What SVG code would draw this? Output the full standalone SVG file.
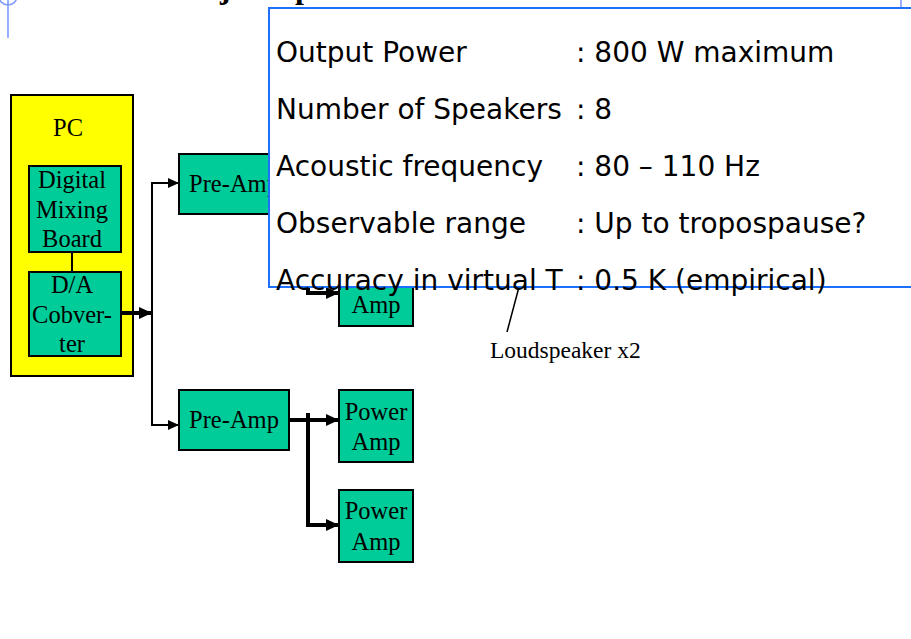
<svg xmlns="http://www.w3.org/2000/svg" width="911" height="639" viewBox="0 0 911 639">
<style>
.bx{fill:#00cc99;stroke:#000;stroke-width:2}
.pc{fill:#ffff00;stroke:#000;stroke-width:2}
.t{font-family:"Liberation Serif","Times New Roman",serif;font-size:24.5px;fill:#000;text-anchor:middle}
.ln{fill:none;stroke:#000;stroke-width:2}
.tk{fill:none;stroke:#000;stroke-width:4}
.s{font-family:"DejaVu Sans","Noto Sans",sans-serif;font-size:28px;fill:#000}
.deco{fill:none;stroke:#7f9bff;stroke-width:1.6}
</style>
<defs>
<marker id="ah" markerUnits="userSpaceOnUse" markerWidth="11" markerHeight="10" refX="11" refY="5" orient="auto"><path d="M0,0 L11,5 L0,10 z" fill="#000"/></marker>
<marker id="ahk" markerUnits="userSpaceOnUse" markerWidth="13" markerHeight="12" refX="13" refY="6" orient="auto"><path d="M0,0 L13,6 L0,12 z" fill="#000"/></marker>
</defs>
<rect width="911" height="639" fill="#fff"/>
<g id="decor">
<circle class="deco" cx="8" cy="-4" r="9"/>
<line class="deco" x1="8" y1="0" x2="8" y2="38"/>
<line class="deco" x1="901" y1="0" x2="901" y2="8"/>
<text x="220" y="-2" font-family="Liberation Serif,serif" font-weight="bold" font-size="32">j</text>
<text x="295" y="-2" font-family="Liberation Serif,serif" font-weight="bold" font-size="32">p</text>
</g>
<g id="pc">
<rect class="pc" x="11" y="95" width="122" height="281"/>
<text class="t" x="68" y="136">PC</text>
</g>
<g id="dmb">
<rect class="bx" x="29" y="166" width="92" height="86"/>
<text class="t" x="72" y="188">Digital</text>
<text class="t" x="72" y="218">Mixing</text>
<text class="t" x="72" y="247">Board</text>
</g>
<g id="da">
<rect class="bx" x="29" y="272" width="92" height="84"/>
<text class="t" x="72" y="293">D/A</text>
<text class="t" x="72" y="323">Cobver-</text>
<text class="t" x="72" y="352">ter</text>
</g>
<g id="preamp1">
<rect class="bx" x="179" y="154" width="110" height="60"/>
<text class="t" x="234" y="192">Pre-Amp</text>
</g>
<g id="preamp2">
<rect class="bx" x="179" y="390" width="110" height="60"/>
<text class="t" x="234" y="428">Pre-Amp</text>
</g>
<g id="poweramp0">
<rect class="bx" x="339" y="254" width="74" height="72"/>
<text class="t" x="376" y="313">Amp</text>
</g>
<g id="poweramp1">
<rect class="bx" x="339" y="390" width="74" height="72"/>
<text class="t" x="376" y="420">Power</text>
<text class="t" x="376" y="450">Amp</text>
</g>
<g id="poweramp2">
<rect class="bx" x="339" y="490" width="74" height="72"/>
<text class="t" x="376" y="519">Power</text>
<text class="t" x="376" y="550">Amp</text>
</g>
<g id="connectors">
<line class="ln" x1="72" y1="252" x2="72" y2="272"/>
<path class="tk" d="M121,313 H152" marker-end="url(#ahk)"/>
<path class="ln" d="M152,313 V183 H179" marker-end="url(#ah)"/>
<path class="ln" d="M152,313 V425 H179" marker-end="url(#ah)"/>
<path class="tk" d="M289,420 H339" marker-end="url(#ahk)"/>
<path class="tk" d="M308,413 V525 H339" marker-end="url(#ahk)"/>
<path class="tk" d="M308,278 V293 H339" marker-end="url(#ahk)"/>
<line x1="507" y1="332" x2="519" y2="287" stroke="#000" stroke-width="1.5"/>
</g>
<g id="loudspeaker-label">
<text x="490" y="358" font-family="Liberation Serif,serif" font-size="23.5">Loudspeaker x2</text>
</g>
<g id="spec-box">
<rect x="269" y="8" width="700" height="279" fill="#fff" stroke="#1f6fff" stroke-width="2"/>
<text class="s" x="276" y="62">Output Power</text>
<text class="s" x="576" y="62">: 800 W maximum</text>
<text class="s" x="276" y="119">Number of Speakers</text>
<text class="s" x="576" y="119">: 8</text>
<text class="s" x="276" y="176">Acoustic frequency</text>
<text class="s" x="576" y="176">: 80 – 110 Hz</text>
<text class="s" x="276" y="233">Observable range</text>
<text class="s" x="576" y="233">: Up to tropospause?</text>
<text class="s" x="276" y="290">Accuracy in virtual T</text>
<text class="s" x="576" y="290">: 0.5 K (empirical)</text>
</g>
</svg>
